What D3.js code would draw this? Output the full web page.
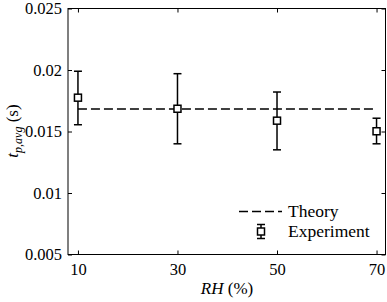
<!DOCTYPE html>
<html>
<head>
<meta charset="utf-8">
<script src="https://cdn.jsdelivr.net/npm/d3@7"></script>
<style>
  body { margin: 0; background: #fff; }
</style>
</head>
<body>
<script>
const [width, height] = [387, 302];
const FONT = '"Liberation Serif"';

// data
const rh = [10, 30, 50, 70];
const tpMean = [0.01775, 0.01685, 0.01588, 0.01502];
const tpLow = [0.01555, 0.0140, 0.01351, 0.0140];
const tpHigh = [0.0199, 0.0197, 0.01821, 0.01608];
const theoryRH = [10, 70];
const theoryValue = 0.01683;
const xTicks = [10, 30, 50, 70];
const yTicks = [0.005, 0.01, 0.015, 0.02, 0.025];

const margin = {left: 68, right: 1.5, top: 8.5, bottom: 47.5};

const x = d3.scaleLinear()
  .domain([8, 71.8])
  .range([margin.left, width - margin.right]);
const y = d3.scaleLinear()
  .domain([0.005, 0.025])
  .range([height - margin.bottom, margin.top]);

const svg = d3.select('body').append('svg')
  .attr('width', width)
  .attr('height', height);

const tickLen = 4;
const fmtY = d => String(+d.toFixed(3));

// axes with inward ticks
svg.append('g')
  .attr('transform', `translate(0,${y.range()[0]})`)
  .call(d3.axisBottom(x).tickValues(xTicks).tickSizeInner(-tickLen).tickSizeOuter(0).tickPadding(9));
svg.append('g')
  .attr('transform', `translate(0,${y.range()[1]})`)
  .call(d3.axisTop(x).tickValues(xTicks).tickSizeInner(-tickLen).tickSizeOuter(0).tickFormat(''));
svg.append('g')
  .attr('transform', `translate(${x.range()[0]},0)`)
  .call(d3.axisLeft(y).tickValues(yTicks).tickSizeInner(-tickLen).tickSizeOuter(0).tickPadding(6).tickFormat(fmtY));
svg.append('g')
  .attr('transform', `translate(${x.range()[1]},0)`)
  .call(d3.axisRight(y).tickValues(yTicks).tickSizeInner(-tickLen).tickSizeOuter(0).tickFormat(''));

svg.selectAll('.domain').remove();
svg.selectAll('g').attr('font-family', null).attr('font-size', null);
svg.selectAll('.tick line').attr('stroke', '#000');
svg.selectAll('.tick text')
  .attr('fill', '#000')
  .style('font-family', FONT)
  .style('font-size', '16.5px');

// frame
svg.append('rect')
  .attr('x', x.range()[0]).attr('y', y.range()[1])
  .attr('width', x.range()[1] - x.range()[0])
  .attr('height', y.range()[0] - y.range()[1])
  .attr('fill', 'none').attr('stroke', '#000').attr('stroke-width', 1);

// theory line
svg.append('line')
  .attr('x1', x(theoryRH[0])).attr('x2', x(theoryRH[1]))
  .attr('y1', y(theoryValue)).attr('y2', y(theoryValue))
  .attr('stroke', '#000').attr('stroke-width', 1.5)
  .attr('stroke-dasharray', '9,4');

// error bars + markers
const data = rh.map((d, i) => ({rh: d, m: tpMean[i], lo: tpLow[i], hi: tpHigh[i]}));
const cap = 4, sq = 7;
const pts = svg.append('g').selectAll('g').data(data).join('g');
pts.append('line')
  .attr('x1', d => x(d.rh)).attr('x2', d => x(d.rh))
  .attr('y1', d => y(d.lo)).attr('y2', d => y(d.hi))
  .attr('stroke', '#000').attr('stroke-width', 1.5);
pts.selectAll('line.cap').data(d => [[d.rh, d.lo], [d.rh, d.hi]]).join('line')
  .attr('class', 'cap')
  .attr('x1', d => x(d[0]) - cap).attr('x2', d => x(d[0]) + cap)
  .attr('y1', d => y(d[1])).attr('y2', d => y(d[1]))
  .attr('stroke', '#000').attr('stroke-width', 1.5);
pts.append('rect')
  .attr('x', d => x(d.rh) - sq / 2).attr('y', d => y(d.m) - sq / 2)
  .attr('width', sq).attr('height', sq)
  .attr('fill', '#fff').attr('stroke', '#000').attr('stroke-width', 1.5);

// legend
const leg = svg.append('g');
leg.append('line')
  .attr('x1', 239).attr('x2', 282).attr('y1', 211.5).attr('y2', 211.5)
  .attr('stroke', '#000').attr('stroke-width', 1.5).attr('stroke-dasharray', '9,4');
leg.append('line')
  .attr('x1', 261).attr('x2', 261).attr('y1', 224.5).attr('y2', 238.5)
  .attr('stroke', '#000').attr('stroke-width', 1.5);
[224.5, 238.5].forEach(v => leg.append('line')
  .attr('x1', 257).attr('x2', 265).attr('y1', v).attr('y2', v)
  .attr('stroke', '#000').attr('stroke-width', 1.5));
leg.append('rect')
  .attr('x', 261 - sq / 2).attr('y', 231.5 - sq / 2).attr('width', sq).attr('height', sq)
  .attr('fill', '#fff').attr('stroke', '#000').attr('stroke-width', 1.5);
leg.selectAll('text.lab').data([['Theory', 216.5], ['Experiment', 236.5]]).join('text')
  .attr('class', 'lab')
  .attr('x', 288).attr('y', d => d[1])
  .style('font-family', FONT).style('font-size', '17.5px')
  .text(d => d[0]);

// axis labels
const xl = svg.append('text')
  .attr('x', 227).attr('y', 294)
  .attr('text-anchor', 'middle')
  .style('font-family', FONT).style('font-size', '17px');
xl.append('tspan').style('font-style', 'italic').text('RH');
xl.append('tspan').text(' (%)');

const yl = svg.append('text')
  .attr('transform', `translate(18,131) rotate(-90)`)
  .attr('text-anchor', 'middle')
  .style('font-family', FONT).style('font-size', '17px');
yl.append('tspan').style('font-style', 'italic').text('t');
yl.append('tspan').style('font-style', 'italic').style('font-size', '12px').attr('dy', 4).text('p,avg');
yl.append('tspan').attr('dy', -4).text(' (s)');
</script>
</body>
</html>
